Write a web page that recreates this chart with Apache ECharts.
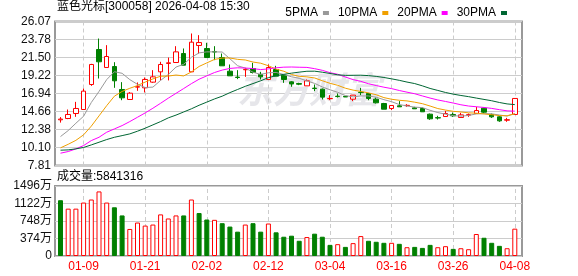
<!DOCTYPE html>
<html><head><meta charset="utf-8">
<script src="https://cdn.jsdelivr.net/npm/echarts@6/dist/echarts.min.js"></script>
<style>html,body{margin:0;padding:0;background:#fff}#c{width:578px;height:276px}</style>
</head><body><div id="c"></div>
<script>
const dates = ['01-06','01-07','01-08','01-09','01-12','01-13','01-14','01-15','01-16','01-19','01-20','01-21','01-22','01-23','01-26','01-27','01-28','01-29','01-30','02-02','02-03','02-04','02-05','02-06','02-09','02-10','02-11','02-12','02-13','02-24','02-25','02-26','02-27','03-02','03-03','03-04','03-05','03-06','03-09','03-10','03-11','03-12','03-13','03-16','03-17','03-18','03-19','03-20','03-23','03-24','03-25','03-26','03-27','03-30','03-31','04-01','04-02','04-03','04-07','04-08'];
const labelDates = ['01-09','01-21','02-02','02-12','03-04','03-16','03-26','04-08'];
const priceTicks = ['7.81','10.10','12.38','14.66','16.94','19.22','21.50','23.78','26.07'];
const volTicks = ['0','374万','748万','1122万','1496万'];

const opens  = [13.60,13.77,14.40,14.91,18.08,22.52,20.24,20.36,17.45,16.18,17.75,17.66,18.38,19.69,20.75,20.87,22.01,19.69,23.03,22.65,22.25,21.50,19.77,19.02,19.95,20.11,19.35,18.72,19.98,19.26,18.42,18.20,17.91,17.62,17.49,16.28,16.60,16.58,16.22,17.10,16.94,16.22,15.67,15.04,15.38,15.40,15.12,15.04,14.32,13.88,14.02,14.28,13.90,14.20,14.40,15.08,14.28,13.98,13.55,14.28];
const closes = [13.70,14.28,15.04,17.24,20.62,20.96,21.63,18.55,16.39,16.98,17.80,18.72,19.05,20.62,20.83,22.22,20.53,23.45,23.40,21.50,22.20,20.45,19.18,18.97,20.00,19.60,19.05,20.24,19.14,18.72,18.15,18.12,18.55,17.57,16.48,16.31,16.55,16.50,16.73,17.05,16.31,15.76,14.95,15.42,15.25,15.44,15.00,14.62,13.73,13.83,14.40,14.11,14.23,14.25,14.78,14.57,13.98,13.47,13.62,16.31];
const lows   = [13.25,13.69,13.98,14.91,17.91,18.84,20.24,17.66,16.09,16.18,17.28,17.07,18.29,18.60,18.60,20.87,20.53,19.69,22.01,21.50,21.17,20.45,19.18,18.76,19.05,19.48,18.72,18.72,19.14,18.29,17.79,18.00,17.91,17.24,16.18,16.09,16.43,16.50,15.97,16.73,16.09,15.67,14.95,14.83,15.25,15.25,15.00,14.62,13.60,13.64,14.02,13.98,13.90,13.98,14.40,14.40,13.85,13.35,13.35,14.28];
const highs  = [13.95,14.91,15.88,17.57,20.70,23.91,23.07,20.91,18.38,17.11,18.34,18.97,19.90,20.96,21.50,22.94,22.65,24.55,24.34,23.37,22.94,22.01,20.62,19.90,20.19,20.83,19.69,20.62,20.45,19.39,18.50,18.30,18.72,18.08,17.57,16.73,16.94,16.62,16.73,17.66,17.02,16.43,15.75,15.42,15.97,15.59,15.25,15.16,14.40,14.11,14.74,14.53,14.49,14.40,15.25,15.16,14.40,14.06,13.85,16.31];
const preClose = 13.90;

const ma5  = [11.48,12.24,13.17,14.06,15.80,17.20,18.70,19.70,19.50,18.70,18.10,17.70,17.75,18.60,19.35,20.29,20.65,21.53,22.09,22.22,22.22,22.20,21.35,20.46,20.16,19.64,19.36,19.57,19.61,19.35,19.06,18.87,18.54,18.22,17.77,17.41,17.09,16.68,16.51,16.63,16.63,16.47,16.16,15.90,15.54,15.36,15.21,15.15,14.81,14.52,14.32,14.14,14.06,14.16,14.35,14.39,14.36,14.21,14.08,14.39];
const ma10 = [10.05,10.50,11.00,11.70,12.80,14.10,15.40,16.60,17.20,17.60,17.95,18.39,18.79,19.13,19.15,19.28,19.17,19.67,20.37,20.82,21.26,21.43,21.44,21.27,21.19,20.93,20.78,20.46,20.03,19.76,19.35,19.12,19.05,18.91,18.56,18.23,17.98,17.61,17.37,17.20,17.02,16.78,16.42,16.21,16.08,16.00,15.84,15.65,15.35,15.03,14.84,14.68,14.60,14.49,14.44,14.35,14.25,14.14,14.12,14.37];
const ma20 = [9.37,9.58,9.92,10.34,10.97,11.39,12.03,12.45,12.87,13.38,13.93,14.48,15.07,15.70,16.35,16.96,17.57,18.19,18.75,19.18,19.60,19.91,20.12,20.20,20.17,20.10,19.97,20.06,20.20,20.28,20.30,20.27,20.25,20.09,19.88,19.58,19.38,19.03,18.70,18.48,18.18,17.95,17.74,17.56,17.32,17.11,16.91,16.63,16.36,16.12,15.93,15.73,15.51,15.35,15.26,15.17,15.05,14.89,14.74,14.70];
const ma30 = [9.75,9.79,9.92,10.10,10.42,10.76,11.10,11.39,11.60,11.82,12.16,12.54,12.96,13.38,13.85,14.20,14.60,15.00,15.45,15.85,16.25,16.60,17.05,17.45,17.85,18.20,18.55,18.95,19.20,19.37,19.52,19.65,19.76,19.77,19.64,19.48,19.31,19.24,19.25,19.26,19.21,19.11,18.97,18.80,18.61,18.39,18.20,17.91,17.58,17.33,17.07,16.86,16.69,16.54,16.36,16.19,16.02,15.80,15.62,15.53];
const volumes = [1192,1012,1012,1142,1207,1380,1142,1041,867,578,715,650,672,889,802,867,867,1207,918,780,773,701,629,520,672,701,520,694,506,412,434,325,405,477,412,238,253,195,275,426,325,304,282,282,260,188,195,173,238,188,210,152,166,145,470,390,282,217,166,584.1316];

const FONT = "'Liberation Sans','Noto Sans CJK SC',sans-serif";
const RED = '#ff0000', GREEN = '#008000';

const candleData = dates.map((d, i) => [opens[i], closes[i], lows[i], highs[i]]);
const volData = volumes.map((v, i) => {
  const prev = i === 0 ? preClose : closes[i - 1];
  const up = closes[i] >= prev;
  return { value: v, itemStyle: up ? { color: '#fff', borderColor: RED, borderWidth: 1 } : { color: GREEN, borderColor: GREEN, borderWidth: 1 } };
});
const vLines = labelDates.map(d => ({ xAxis: d }));
const vLineStyle = { color: '#cccccc', type: [4, 3], width: 1 };

const chart = echarts.init(document.getElementById('c'), null, { renderer: 'canvas' });
chart.setOption({
  animation: false,
  backgroundColor: '#fff',
  textStyle: { fontFamily: FONT },
  legend: {
    right: 66, top: 2, itemWidth: 6, itemHeight: 4, itemGap: 9, align: 'right', icon: 'rect',
    textStyle: { fontSize: 12, color: '#000', fontFamily: "'Liberation Sans Narrow','Liberation Sans',sans-serif" },
    data: ['5PMA', '10PMA', '20PMA', '30PMA'], selectedMode: false
  },
  grid: [
    { left: 55, top: 21.5, width: 467, height: 144, show: true, borderColor: '#999', borderWidth: 2, backgroundColor: 'transparent' },
    { left: 56.65, top: 21.5, width: 462, height: 144 },
    { left: 55, top: 186, width: 467, height: 70, show: true, borderColor: '#999', borderWidth: 2, backgroundColor: 'transparent' },
    { left: 56.65, top: 186, width: 462, height: 70 }
  ],
  xAxis: [
    { gridIndex: 0, type: 'value', min: 0, max: 1, show: false },
    { gridIndex: 1, type: 'category', data: dates, show: false },
    { gridIndex: 2, type: 'value', min: 0, max: 1, show: false },
    { gridIndex: 3, type: 'category', data: dates, axisLine: { show: false }, axisTick: { show: false }, splitLine: { show: false },
      axisLabel: { interval: (idx, val) => labelDates.includes(val), color: RED, fontSize: 12, margin: 5, fontFamily: FONT } }
  ],
  yAxis: [
    { gridIndex: 0, type: 'value', min: 7.81, max: 26.07, interval: (26.07 - 7.81) / 8,
      axisLine: { show: false }, axisTick: { show: false },
      axisLabel: { formatter: (v, i) => priceTicks[i], color: '#111', fontSize: 12, margin: 4, fontFamily: FONT },
      splitLine: { show: true, lineStyle: { color: '#cccccc', width: 1 } } },
    { gridIndex: 1, type: 'value', min: 7.81, max: 26.07, show: false, splitLine: { show: false } },
    { gridIndex: 2, type: 'value', min: 0, max: 1496, interval: 374,
      axisLine: { show: false }, axisTick: { show: false },
      axisLabel: { formatter: (v, i) => volTicks[i], color: '#111', fontSize: 12, margin: 3, fontFamily: FONT },
      splitLine: { show: true, lineStyle: { color: '#cccccc', width: 1 } } },
    { gridIndex: 3, type: 'value', min: 0, max: 1496, show: false, splitLine: { show: false } }
  ],
  series: [
    { type: 'candlestick', name: 'K', xAxisIndex: 1, yAxisIndex: 1, data: candleData, barWidth: 5, z: 3,
      itemStyle: { color: '#fff', color0: GREEN, borderColor: RED, borderColor0: GREEN, borderWidth: 1 },
      markLine: { silent: true, symbol: 'none', z: 1, label: { show: false }, lineStyle: vLineStyle, data: vLines } },
    { type: 'line', name: '5PMA', xAxisIndex: 1, yAxisIndex: 1, data: ma5, showSymbol: false, symbol: 'none', z: 4, color: '#999999', lineStyle: { width: 1, color: '#999999' } },
    { type: 'line', name: '10PMA', xAxisIndex: 1, yAxisIndex: 1, data: ma10, showSymbol: false, symbol: 'none', z: 4, color: '#f0a000', lineStyle: { width: 1, color: '#f0a000' } },
    { type: 'line', name: '20PMA', xAxisIndex: 1, yAxisIndex: 1, data: ma20, showSymbol: false, symbol: 'none', z: 4, color: '#ff00ff', lineStyle: { width: 1, color: '#ff00ff' } },
    { type: 'line', name: '30PMA', xAxisIndex: 1, yAxisIndex: 1, data: ma30, showSymbol: false, symbol: 'none', z: 4, color: '#006633', lineStyle: { width: 1, color: '#006633' } },
    { type: 'bar', name: 'VOL', xAxisIndex: 3, yAxisIndex: 3, data: volData, barWidth: 5, z: 3,
      markLine: { silent: true, symbol: 'none', z: 1, label: { show: false }, lineStyle: vLineStyle, data: vLines } }
  ],
  graphic: [
    { type: 'text', left: 57, top: 1, z: 10, style: { text: '蓝色光标[300058] 2026-04-08 15:30', font: "12px " + FONT, fill: '#000' } },
    { type: 'text', left: 57, top: 171, z: 10, style: { text: '成交量:' + Math.round(volumes[volumes.length - 1] * 10000), font: "12px " + FONT, fill: '#000' } },
    { type: 'text', left: 237, top: 71, z: 1, silent: true, style: { text: '东方财富', font: "italic bold 36px 'Noto Sans CJK SC'", fill: '#e6e6ea' } }
  ]
});
</script></body></html>
